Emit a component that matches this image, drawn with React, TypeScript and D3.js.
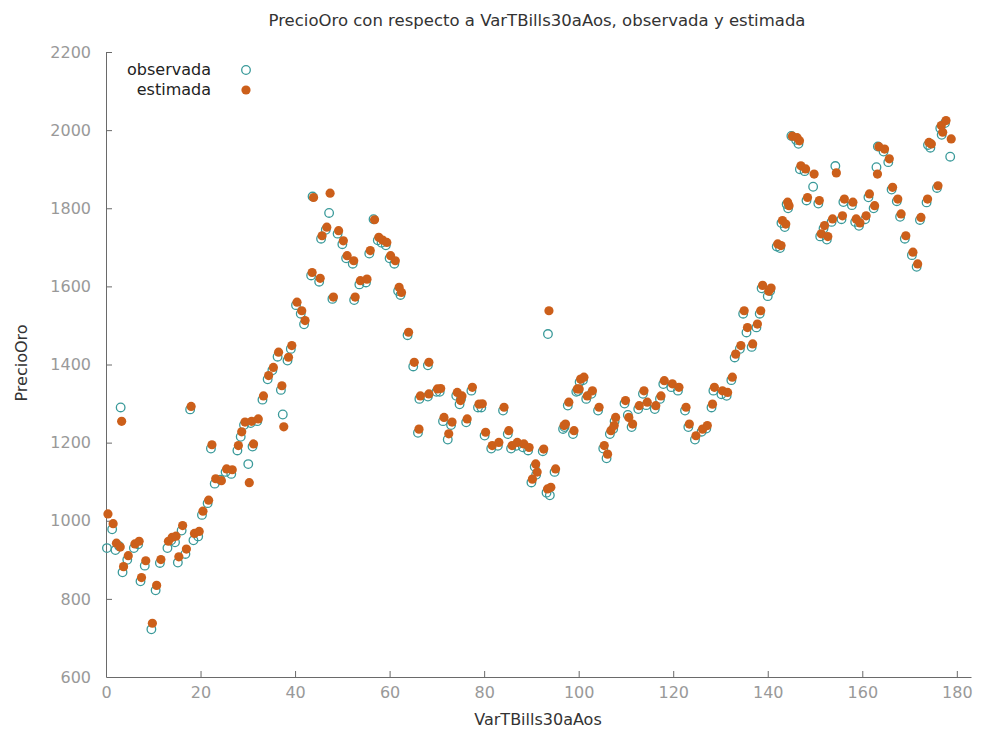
import React, { useEffect, useRef } from 'react';
import * as d3 from 'd3';

// x position of each observation (VarTBills30aAos)
const xValues = [
  0.2, 1.3, 2.0, 2.8, 3.1, 3.5, 4.5, 5.9, 6.8, 7.3, 8.2, 9.6, 10.5, 11.4, 13.0, 13.8, 14.6, 15.2, 16.0, 16.8,
  17.8, 18.5, 19.5, 20.3, 21.5, 22.2, 23.0, 24.2, 25.3, 26.5, 27.8, 28.5, 29.2, 30.1, 30.6, 31.0, 32.0, 33.1, 34.2, 35.2,
  36.3, 37.0, 37.4, 38.4, 39.1, 40.2, 41.2, 41.9, 43.4, 43.7, 45.1, 45.5, 46.5, 47.2, 47.9, 49.0, 50.0, 50.8, 52.2, 52.5,
  53.6, 55.0, 55.7, 56.6, 57.5, 58.3, 59.2, 60.0, 61.0, 61.8, 62.3, 63.8, 65.0, 66.0, 66.3, 68.1, 68.1, 69.9, 70.6, 71.3,
  72.3, 73.0, 74.1, 74.8, 75.1, 76.2, 77.3, 78.7, 79.4, 80.1, 81.5, 82.9, 84.0, 85.0, 85.7, 86.8, 88.2, 89.3, 90.0, 90.7,
  91.0, 92.4, 93.2, 93.5, 93.9, 94.9, 96.7, 97.0, 97.7, 98.8, 99.5, 99.9, 100.2, 100.9, 101.6, 102.7, 104.1, 105.2, 105.9, 106.6,
  107.3, 107.6, 109.7, 110.4, 111.2, 112.6, 113.6, 114.3, 116.1, 117.2, 117.9, 119.6, 121.0, 122.5, 123.2, 124.6, 126.0, 127.0, 128.1, 128.5,
  130.2, 131.3, 132.3, 133.0, 134.1, 134.8, 135.5, 136.6, 137.6, 138.3, 138.7, 140.0, 140.5, 141.9, 142.6, 142.9, 143.6, 144.0, 144.3, 145.0,
  146.0, 146.5, 146.8, 147.8, 148.2, 149.6, 150.7, 151.1, 151.8, 152.5, 153.5, 154.3, 155.6, 156.0, 157.8, 158.5, 159.3, 160.6, 161.3, 162.4,
  163.0, 163.3, 164.5, 165.5, 166.2, 167.3, 168.0, 169.0, 170.5, 171.5, 172.2, 173.6, 173.9, 174.4, 175.8, 176.5, 176.8, 177.5, 178.6,
];

// PrecioOro, observada
const observed = [
  930, 978, 925, 935, 1290, 868, 900, 930, 940, 845, 885, 722, 822, 892, 930, 950, 945, 893, 975, 915,
  1285, 950, 960, 1015, 1045, 1185, 1095, 1105, 1125, 1120, 1180, 1215, 1245, 1145, 1250, 1190, 1255, 1310, 1362, 1385,
  1420, 1335, 1272, 1410, 1440, 1552, 1530, 1503, 1628, 1830, 1612, 1722, 1745, 1788, 1568, 1735, 1708, 1672, 1658, 1565,
  1605, 1610, 1684, 1772, 1718, 1712, 1705, 1672, 1658, 1588, 1578, 1475, 1395, 1225, 1312, 1398, 1318, 1330, 1330, 1255,
  1208, 1245, 1320, 1298, 1312, 1252, 1333, 1290, 1290, 1218, 1185, 1192, 1282, 1222, 1185, 1192, 1188, 1180, 1098, 1138,
  1118, 1178, 1072, 1478, 1065, 1125, 1235, 1240, 1295, 1222, 1330, 1332, 1355, 1360, 1312, 1325, 1282, 1185, 1160, 1222,
  1235, 1255, 1300, 1271, 1240, 1286, 1325, 1296, 1286, 1312, 1350, 1342, 1333, 1282, 1240, 1208, 1228, 1236, 1290, 1333,
  1324, 1320, 1360, 1418, 1440, 1530, 1482, 1445, 1495, 1530, 1595, 1575, 1588, 1702, 1698, 1762, 1752, 1810, 1800, 1985,
  1975, 1965, 1900, 1895, 1820, 1855, 1812, 1728, 1748, 1720, 1765, 1908, 1772, 1816, 1808, 1765, 1755, 1772, 1828, 1800,
  1905, 1958, 1945, 1918, 1848, 1818, 1778, 1722, 1680, 1650, 1770, 1815, 1962, 1955, 1852, 2005, 1988, 2018, 1932,
];

// PrecioOro, estimada
const estimated = [
  1015, 990, 940, 930, 1252, 880, 908, 938, 945, 852, 895, 735, 832, 898, 945, 955, 958, 905, 985, 925,
  1290, 965, 970, 1022, 1050, 1192, 1105, 1100, 1130, 1128, 1190, 1225, 1250, 1095, 1252, 1194, 1258, 1317, 1369, 1390,
  1429, 1343, 1238, 1416, 1446, 1557, 1535, 1510, 1633, 1825, 1618, 1727, 1749, 1836, 1570, 1740, 1714, 1676, 1663, 1570,
  1612, 1616, 1689, 1768, 1723, 1716, 1710, 1676, 1663, 1595, 1582, 1480, 1403, 1232, 1317, 1403, 1322, 1335, 1336, 1262,
  1220, 1250, 1326, 1305, 1317, 1258, 1339, 1296, 1297, 1224, 1190, 1198, 1288, 1228, 1190, 1198, 1194, 1185, 1104, 1143,
  1122, 1181, 1079, 1535, 1083, 1130, 1241, 1245, 1301, 1228, 1335, 1335, 1360, 1365, 1317, 1330, 1288, 1190, 1168, 1228,
  1241, 1262, 1305, 1262, 1245, 1292, 1330, 1301, 1292, 1317, 1356, 1348, 1339, 1288, 1245, 1215, 1232, 1241, 1296, 1339,
  1330, 1326, 1365, 1424, 1446, 1535, 1492, 1450, 1501, 1535, 1600, 1585, 1593, 1706, 1702, 1766, 1757, 1813, 1804, 1982,
  1978, 1970, 1906, 1898, 1825, 1885, 1817, 1732, 1753, 1725, 1770, 1888, 1778, 1821, 1813, 1770, 1760, 1778, 1834, 1804,
  1885, 1955, 1949, 1924, 1851, 1821, 1783, 1727, 1685, 1655, 1774, 1821, 1966, 1962, 1855, 2009, 1992, 2022, 1975,
];

const xTicks = [0, 20, 40, 60, 80, 100, 120, 140, 160, 180];
const yTicks = [600, 800, 1000, 1200, 1400, 1600, 1800, 2000, 2200];
const seriesNames = ['observada', 'estimada'];

const W = 981;
const H = 737;
const FONT = '"DejaVu Sans", sans-serif';
const OBS_COLOR = '#3a9a9a';
const EST_COLOR = '#cc5f1a';

const App = () => {
  const ref = useRef<SVGSVGElement | null>(null);

  useEffect(() => {
    const svg = d3.select(ref.current);
    svg.selectAll('*').remove();

    const x = d3.scaleLinear().domain([0, 183]).range([106, 971]);
    const y = d3.scaleLinear().domain([600, 2200]).range([677, 52]);

    // title and axis labels
    svg.append('text')
      .attr('x', 537).attr('y', 26)
      .attr('text-anchor', 'middle')
      .attr('font-family', FONT).attr('font-size', 16.5)
      .attr('fill', '#333')
      .text('PrecioOro con respecto a VarTBills30aAos, observada y estimada');

    svg.append('text')
      .attr('x', 538).attr('y', 725)
      .attr('text-anchor', 'middle')
      .attr('font-family', FONT).attr('font-size', 16)
      .attr('fill', '#333')
      .text('VarTBills30aAos');

    svg.append('text')
      .attr('transform', 'translate(27,363) rotate(-90)')
      .attr('text-anchor', 'middle')
      .attr('font-family', FONT).attr('font-size', 16)
      .attr('fill', '#333')
      .text('PrecioOro');

    // axes (left + bottom only, ticks pointing inward)
    const xAxis = svg.append('g')
      .attr('transform', `translate(0,${y(600)})`)
      .call(d3.axisBottom(x).tickValues(xTicks).tickSizeInner(-6).tickSizeOuter(0).tickPadding(10));
    const yAxis = svg.append('g')
      .attr('transform', `translate(${x(0)},0)`)
      .call(
        d3.axisLeft(y).tickValues(yTicks).tickFormat(d3.format('d'))
          .tickSizeInner(-6).tickSizeOuter(0).tickPadding(15)
      );

    [xAxis, yAxis].forEach((g) => {
      g.select('.domain').attr('stroke', '#6a6a6a');
      g.selectAll('.tick line').attr('stroke', '#6a6a6a');
      g.selectAll('.tick text')
        .attr('font-family', FONT).attr('font-size', 16)
        .attr('fill', '#999');
    });
    yAxis.selectAll('.tick').filter((d) => d === 600).select('line').remove();
    xAxis.selectAll('.tick').filter((d) => d === 0).select('line').remove();

    const pts = xValues.map((v, i) => ({ x: v, obs: observed[i], est: estimated[i] }));

    // observada: hollow circles
    svg.append('g')
      .selectAll('circle')
      .data(pts)
      .enter()
      .append('circle')
      .attr('cx', (d) => x(d.x))
      .attr('cy', (d) => y(d.obs))
      .attr('r', 4.3)
      .attr('fill', 'none')
      .attr('stroke', OBS_COLOR)
      .attr('stroke-width', 1.3);

    // estimada: filled circles
    svg.append('g')
      .selectAll('circle')
      .data(pts)
      .enter()
      .append('circle')
      .attr('cx', (d) => x(d.x) + 1)
      .attr('cy', (d) => y(d.est) - 1)
      .attr('r', 4.6)
      .attr('fill', EST_COLOR);

    // legend
    const legend = svg.append('g');
    seriesNames.forEach((name, i) => {
      const ly = 70 + i * 20;
      legend.append('text')
        .attr('x', 211).attr('y', ly + 5)
        .attr('text-anchor', 'end')
        .attr('font-family', FONT).attr('font-size', 16)
        .attr('fill', '#222')
        .text(name);
      if (i === 0) {
        legend.append('circle')
          .attr('cx', 246).attr('cy', ly).attr('r', 4.3)
          .attr('fill', 'none').attr('stroke', OBS_COLOR).attr('stroke-width', 1.3);
      } else {
        legend.append('circle')
          .attr('cx', 246).attr('cy', ly).attr('r', 4.6)
          .attr('fill', EST_COLOR);
      }
    });
  }, []);

  return (
    <svg
      ref={ref}
      width={W}
      height={H}
      style={{ position: 'absolute', left: 0, top: 0, background: '#fff' }}
    />
  );
};

export default App;
